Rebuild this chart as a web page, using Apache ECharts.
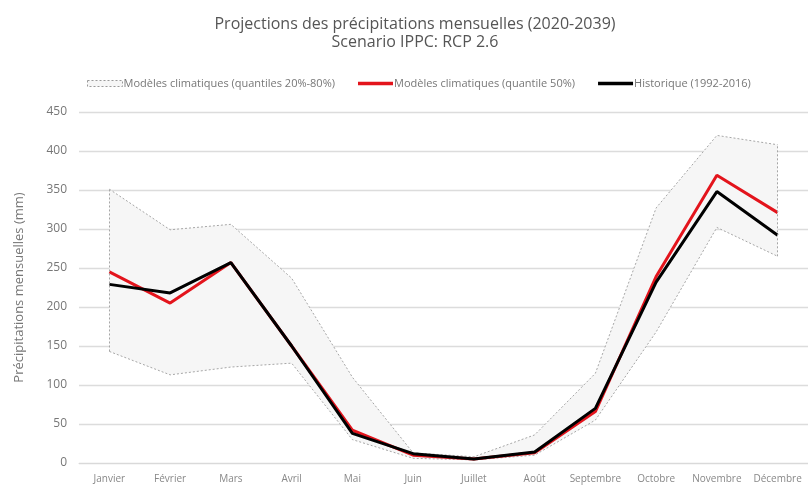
<!DOCTYPE html>
<html>
<head>
<meta charset="utf-8">
<script src="https://cdn.jsdelivr.net/npm/echarts@6/dist/echarts.min.js"></script>
<style>
  html, body { margin: 0; padding: 0; background: #fff; }
  #chart { width: 808px; height: 489px; }
</style>
</head>
<body>
<div id="chart"></div>
<script>
// mois
var months = ['Janvier', 'Février', 'Mars', 'Avril', 'Mai', 'Juin', 'Juillet', 'Août', 'Septembre', 'Octobre', 'Novembre', 'Décembre'];
// quantiles 20% et 80% des modèles
var q20 = [143, 113, 123, 128, 30, 6, 4, 10, 55, 168, 302, 265];
var q80 = [351, 299, 306, 237, 110, 13, 8, 36, 115, 327, 420, 408];
// quantile 50%
var q50 = [245, 205, 257, 150, 42, 10, 5, 13, 66, 239, 369, 321];
// historique 1992-2016
var hist = [229, 218, 257, 150, 38, 12, 5, 14, 70, 232, 348, 292];

var bandName = 'Modèles climatiques (quantiles 20%-80%)';
var medName = 'Modèles climatiques (quantile 50%)';
var histName = 'Historique (1992-2016)';

var bandDiff = q80.map(function (v, i) { return v - q20[i]; });
var font = '"Open Sans", "DejaVu Sans", sans-serif';
var dotted = { color: '#a6a6a6', width: 1, type: [2, 2] };
var bar = 'path://M0,0 L35,0 L35,3.4 L0,3.4 Z';

var myChart = echarts.init(document.getElementById('chart'));
var option = {
    animation: false,
    title: {
        text: 'Projections des précipitations mensuelles (2020-2039)',
        subtext: 'Scenario IPPC: RCP 2.6',
        left: 410,
        top: 11,
        textAlign: 'center',
        itemGap: 2,
        textStyle: { fontFamily: font, fontSize: 16, fontWeight: 'normal', color: '#555' },
        subtextStyle: { fontFamily: font, fontSize: 16, color: '#555' }
    },
    legend: {
        left: 82,
        top: 73,
        itemWidth: 35,
        itemHeight: 6,
        itemGap: 23,
        symbolKeepAspect: true,
        textStyle: { fontFamily: font, fontSize: 11, color: '#777', padding: [0, 0, 0, -4] },
        data: [
            { name: bandName, icon: 'rect', itemStyle: { color: '#f6f6f6', borderColor: '#999', borderWidth: 1, borderType: [2, 2] } },
            { name: medName, icon: bar, itemStyle: { color: '#e3141c' } },
            { name: histName, icon: bar, itemStyle: { color: '#000' } }
        ]
    },
    grid: { left: 79, right: -10, top: 112, bottom: 26 },
    xAxis: {
        type: 'category',
        data: months,
        boundaryGap: true,
        axisLine: { lineStyle: { color: '#d9d9d9' } },
        axisTick: { show: false },
        axisLabel: { interval: 0, fontFamily: font, fontSize: 10, color: '#888', margin: 11 }
    },
    yAxis: {
        type: 'value',
        min: 0,
        max: 450,
        interval: 50,
        name: 'Précipitations mensuelles (mm)',
        nameLocation: 'middle',
        nameGap: 53,
        nameTextStyle: { fontFamily: font, fontSize: 13, color: '#777' },
        axisLine: { show: false },
        axisTick: { show: false },
        axisLabel: { fontFamily: font, fontSize: 12, color: '#777', margin: 12 },
        splitLine: { lineStyle: { color: '#dcdcdc', width: 1.3 } }
    },
    series: [
        {
            name: bandName,
            type: 'line',
            stack: 'band',
            data: q20,
            symbol: 'none',
            lineStyle: dotted,
            z: 1
        },
        {
            name: bandName,
            type: 'line',
            stack: 'band',
            data: bandDiff,
            symbol: 'none',
            lineStyle: { opacity: 0 },
            areaStyle: { color: '#f6f6f6', opacity: 1 },
            z: 1
        },
        {
            name: bandName,
            type: 'line',
            data: q80,
            symbol: 'none',
            lineStyle: dotted,
            z: 1,
            markLine: {
                silent: true,
                symbol: 'none',
                label: { show: false },
                lineStyle: dotted,
                data: [
                    [{ coord: [months[0], q20[0]] }, { coord: [months[0], q80[0]] }],
                    [{ coord: [months[11], q20[11]] }, { coord: [months[11], q80[11]] }]
                ]
            }
        },
        {
            name: medName,
            type: 'line',
            data: q50,
            symbol: 'none',
            itemStyle: { color: '#e3141c' },
            lineStyle: { color: '#e3141c', width: 3 },
            z: 3
        },
        {
            name: histName,
            type: 'line',
            data: hist,
            symbol: 'none',
            itemStyle: { color: '#000' },
            lineStyle: { color: '#000', width: 3 },
            z: 4
        }
    ]
};
option && myChart.setOption(option);
</script>
</body>
</html>
